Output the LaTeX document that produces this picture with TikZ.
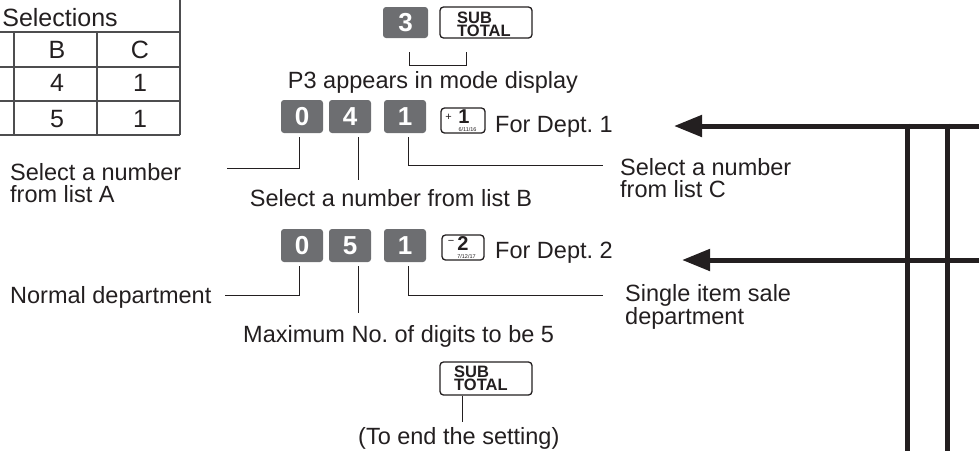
\documentclass[tikz,border=0pt]{standalone}
\usepackage{fontspec}
\setmainfont{Liberation Sans}
\usetikzlibrary{arrows.meta}
\definecolor{ink}{HTML}{231F20}
\definecolor{keygray}{HTML}{6D6E71}
\definecolor{rulegray}{HTML}{4D4D4F}

\tikzset{
  lbl/.style={font=\fontsize{23.5}{21.5}\selectfont, text=ink, inner sep=0pt, align=left},
  tbltxt/.style={font=\fontsize{25}{25}\selectfont, text=ink, inner sep=0pt},
  tblrule/.style={draw=rulegray, line width=1.3pt},
  numkey/.style={fill=keygray, rounded corners=3pt, minimum width=42pt, minimum height=33pt,
                 text=white, font=\fontsize{26}{26}\selectfont\bfseries, inner sep=0pt},
  fnkey/.style={draw=ink, line width=1.3pt, fill=white, rounded corners=3.5pt, inner sep=0pt},
  sttxt/.style={font=\fontsize{16.5}{13}\selectfont\bfseries, text=ink, inner sep=0pt},
  keysign/.style={text=ink, inner sep=0pt, font=\fontsize{11}{11}\selectfont},
  keydigit/.style={text=ink, inner sep=0pt, font=\fontsize{20}{20}\selectfont\bfseries},
  keydate/.style={text=ink, inner sep=0pt, font=\fontsize{5.5}{5.5}\selectfont},
  lead/.style={draw=ink, line width=1pt},
  bus/.style={draw=ink, line width=5pt},
  busarrow/.style={bus, -{Triangle[length=28pt,width=21pt]}},
}

\begin{document}
\frenchspacing
\begin{tikzpicture}[x=1pt,y=-1pt]
\path[use as bounding box] (0,0) rectangle (979,451);

% selection table (left part cut by the frame)
\draw[tblrule] (0,32) -- (180,32) (0,67) -- (180,67) (0,101) -- (180,101) (0,135) -- (180,135)
               (180,0) -- (180,135) (97,32) -- (97,135) (14,32) -- (14,135);
\node[tbltxt, anchor=base] (hdr) at (60,26) {Selections};
\node[tbltxt, anchor=base] (hB) at (57,58.5) {B};
\node[tbltxt, anchor=base] (hC) at (140,58.5) {C};
\node[tbltxt, anchor=base] (vB1) at (57,91) {4};
\node[tbltxt, anchor=base] (vC1) at (140,91) {1};
\node[tbltxt, anchor=base] (vB2) at (57,127) {5};
\node[tbltxt, anchor=base] (vC2) at (140,127) {1};

% mode entry: 3, SUBTOTAL
\node[numkey, minimum width=45pt, minimum height=31pt] (k3) at (405.5,22.5) {3};
\node[fnkey, minimum width=92pt, minimum height=31pt] (st1) at (486,22.5) {};
\node[sttxt, anchor=base west] (st1a) at (457,23.5) {SUB};
\node[sttxt, anchor=base west] (st1b) at (457,36.5) {TOTAL};
\coordinate (br1) at (409,52);
\coordinate (br2) at (466,52);
\draw[lead] (br1) -- ++(0,13) -| (br2);
\node[lbl, anchor=base] (tP3) at (433,88) {P3 appears in mode display};

% department 1: 0 4 1
\node[numkey] (a0) at (302,116.5) {0};
\node[numkey] (a4) at (350,116.5) {4};
\node[numkey] (a1) at (405,116.5) {1};
\node[fnkey, minimum width=44pt, minimum height=25pt] (kp1) at (463,120.5) {};
\node[keysign] (kp1s) at (448.5,117) {+};
\node[keydigit] (kp1n) at (464,117) {1};
\node[keydate] (kp1d) at (467.5,130) {6/11/16};
\node[lbl, anchor=base west] (tD1) at (495,132) {For Dept. 1};

\coordinate (eA) at (227,168);
\coordinate (eB) at (358,180);
\coordinate (eC) at (603,165);
\draw[lead] ([xshift=-3pt,yshift=-4pt]a0.south) |- (eA);
\draw[lead] ([xshift=8pt,yshift=-4pt]a4.south) -- (eB);
\draw[lead] ([xshift=3pt,yshift=-4pt]a1.south) |- (eC);
\node[lbl, anchor=base west] (tA) at (10,202) {Select a number\\from list A};
\node[lbl, anchor=base] (tB) at (391,206) {Select a number from list B};
\node[lbl, anchor=base west] (tC) at (620,197) {Select a number\\from list C};

% department 2: 0 5 1
\node[numkey] (b0) at (302,245.5) {0};
\node[numkey] (b5) at (350,245.5) {5};
\node[numkey] (b1) at (405,245.5) {1};
\node[fnkey, minimum width=42pt, minimum height=25pt] (km2) at (463,247.5) {};
\node[keysign] (km2s) at (451,242) {\char"2212};
\node[keydigit] (km2n) at (463,244) {2};
\node[keydate] (km2d) at (466.5,257) {7/12/17};
\node[lbl, anchor=base west] (tD2) at (495,258) {For Dept. 2};

\coordinate (eN) at (225,295);
\coordinate (eM) at (358,313);
\coordinate (eS) at (603,295);
\draw[lead] ([xshift=-3pt,yshift=-4pt]b0.south) |- (eN);
\draw[lead] ([xshift=8pt,yshift=-4pt]b5.south) -- (eM);
\draw[lead] ([xshift=3pt,yshift=-4pt]b1.south) |- (eS);
\node[lbl, anchor=base west] (tN) at (10,303) {Normal department};
\node[lbl, anchor=base west] (tM) at (243,342) {Maximum No. of digits to be 5};
\node[lbl, anchor=base west] (tS) at (625,324) {Single item sale\\department};

% closing SUBTOTAL
\node[fnkey, minimum width=92pt, minimum height=33pt] (st2) at (486,378.5) {};
\node[sttxt, anchor=base west] (st2a) at (454,377) {SUB};
\node[sttxt, anchor=base west] (st2b) at (454,390) {TOTAL};
\coordinate (eT) at (462,422);
\draw[lead] (st2.south -| eT) -- (eT);
\node[lbl, anchor=base west] (tEnd) at (358,444) {(To end the setting)};

% program flow lines on the right
\coordinate (r1) at (979,126);
\coordinate (t1) at (674,126);
\coordinate (r2) at (979,260);
\coordinate (t2) at (682,260);
\coordinate (v1a) at (907,123.5);
\coordinate (v1b) at (907,451);
\coordinate (v2a) at (947,123.5);
\coordinate (v2b) at (947,451);
\draw[bus] (v1a) -- (v1b);
\draw[bus] (v2a) -- (v2b);
\draw[busarrow] (r1) -- (t1);
\draw[busarrow] (r2) -- (t2);
\end{tikzpicture}
\end{document}
